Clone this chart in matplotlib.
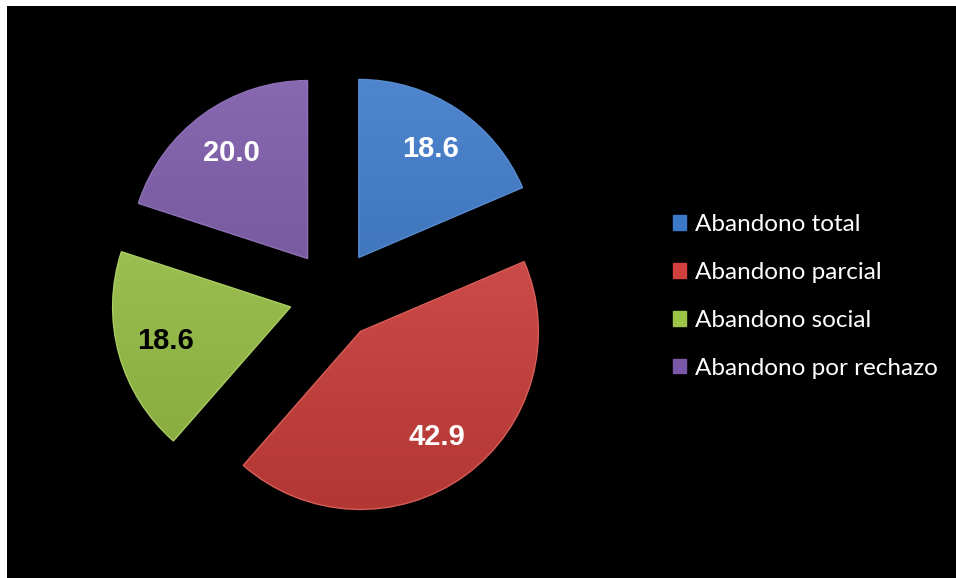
import numpy as np
import matplotlib.pyplot as plt
from matplotlib.patches import Rectangle
from matplotlib.colors import to_rgb

categorias = ['Abandono total', 'Abandono parcial', 'Abandono social', 'Abandono por rechazo']
valores = [18.6, 42.9, 18.6, 20.0]
colores = ['#3b78c8', '#d0403c', '#9bc447', '#7a58a8']
color_texto = ['white', 'white', 'black', 'white']

fig = plt.figure(figsize=(9.56, 5.78), dpi=100, facecolor='white')
# fondo negro del grafico
fig.patches.append(Rectangle((7 / 956, 0), 1, 1 - 6 / 578, transform=fig.transFigure,
                             facecolor='black', edgecolor='none', zorder=-5))

ax = fig.add_axes([0, 0, 1, 1])
ax.set_zorder(1)
ax.patch.set_alpha(0)

cx, cy = 334, 578 - 295   # centro en pixeles
radio = 178
wedges, textos = ax.pie(valores, colors=colores, startangle=90, counterclock=False,
                        explode=[45] * 4, center=(cx, cy), radius=radio,
                        labels=None, labeldistance=None,
                        wedgeprops=dict(edgecolor='none'))

# sombreado degradado de cada porcion
grad = np.linspace(1, 0, 256).reshape(-1, 1)
for w, c in zip(wedges, colores):
    base = np.array(to_rgb(c))
    claro = base + (1 - base) * 0.10
    oscuro = base * 0.86
    img = (grad[..., None] * claro + (1 - grad[..., None]) * oscuro)
    img = np.repeat(img, 2, axis=1)
    bx, by = w.center
    im = ax.imshow(img, extent=(bx - radio, bx + radio, by - radio, by + radio),
                   origin='upper', zorder=2, interpolation='bilinear')
    im.set_clip_path(w)
    w.set_edgecolor(tuple(base + (1 - base) * 0.15))
    w.set_linewidth(1.0)
    w.set_zorder(3)
    w.set_facecolor('none')

# etiquetas de valor
for w, v, tc in zip(wedges, valores, color_texto):
    medio = np.deg2rad((w.theta1 + w.theta2) / 2)
    bx, by = w.center
    ax.text(bx + 0.73 * radio * np.cos(medio), by + 0.73 * radio * np.sin(medio),
            f'{v:.1f}', ha='center', va='center', color=tc, fontsize=21,
            fontweight='bold', family='Liberation Sans', zorder=5)

ax.set_xlim(0, 956)
ax.set_ylim(0, 578)
ax.set_aspect('auto')
ax.axis('off')

leg = ax.legend(wedges, categorias, loc='center left',
                bbox_to_anchor=(673 / 956, 1 - 296.5 / 578), bbox_transform=fig.transFigure,
                frameon=False, borderpad=0, borderaxespad=0,
                prop={'family': 'Lato', 'size': 17.5}, labelcolor='white',
                handlelength=0.55, handleheight=0.55, handletextpad=0.35, labelspacing=1.1)
for h, c in zip(leg.legend_handles, colores):
    h.set_facecolor(c)
    h.set_edgecolor(c)

fig.savefig('out.png', dpi=100, facecolor='white')
